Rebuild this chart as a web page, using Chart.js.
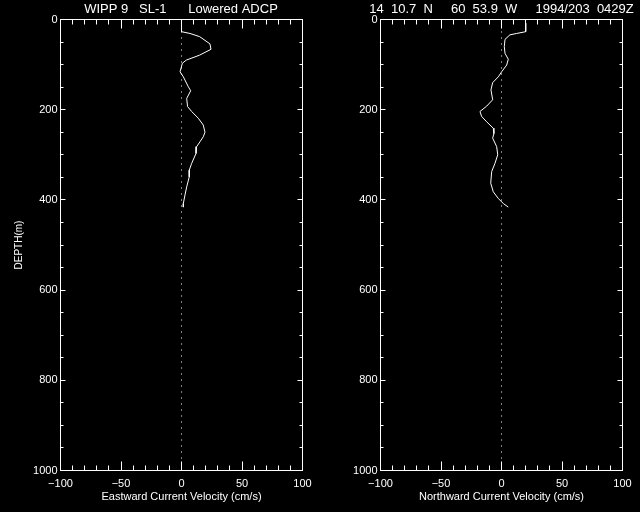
<!DOCTYPE html>
<html>
<head>
<meta charset="utf-8">
<script src="https://cdn.jsdelivr.net/npm/chart.js@4/dist/chart.umd.min.js"></script>
<style>
  html, body { margin: 0; padding: 0; background: #000; width: 640px; height: 512px; overflow: hidden; }
  canvas { position: absolute; top: 0; }
  #east { left: 0px; }
  #north { left: 341px; }
</style>
</head>
<body>
<canvas id="east" width="362" height="512"></canvas>
<canvas id="north" width="321" height="512"></canvas>
<script>
// ---- data ----
const eastDepths = [8, 27, 31, 38, 54, 66, 79, 90, 97, 116, 127, 149, 158, 175, 193, 204, 219, 234, 250, 260, 271, 282, 297, 319, 334, 349, 371, 389, 408, 416];
const eastVel    = [0, 0, 7, 15, 23.5, 24.4, 15, 4, 0.7, -1.2, 1.5, 5.6, 7.6, 4.3, 5, 8.4, 13.9, 18, 19.4, 18, 15.3, 12.5, 12, 8.4, 6.4, 6.4, 4.3, 2.9, 1.5, 1.5];

const northDepths = [8, 27, 31, 34, 44, 60, 75, 88, 101, 116, 127, 140, 156, 178, 192, 204, 215, 227, 241, 253, 263, 282, 300, 319, 337, 363, 382, 397, 408, 416];
const northVel    = [20, 20, 12.5, 7, 2.9, 2.3, 2.9, 5.6, 4.3, 0.1, -2.6, -7.3, -8.7, -7.3, -12.2, -17.8, -16.4, -12.2, -6.8, -6.3, -7.3, -4, -3.1, -5.4, -8.1, -8.9, -6.8, -2.6, 1.5, 5.6];

const zeroLineDepths = [0, 1000];
const velRange = [-100, 100];
const depthRange = [0, 1000];
const velMajorStep = 50, velMinorStep = 10;
const depthMajorStep = 200, depthMinorStep = 50;

const eastTitle  = 'WIPP 9   SL-1      Lowered ADCP';
const northTitle = '14  10.7  N     60  53.9  W     1994/203  0429Z';
const eastXLabel  = 'Eastward Current Velocity (cm/s)';
const northXLabel = 'Northward Current Velocity (cm/s)';
const yLabel = 'DEPTH(m)';

const FONT = "'Liberation Sans', Arial, sans-serif";

const boxTicks = {
  id: 'boxTicks',
  afterDatasetsDraw(chart) {
    const { ctx, chartArea: a } = chart;
    const xs = chart.scales.x, ys = chart.scales.y;
    ctx.save();
    ctx.strokeStyle = '#fff';
    ctx.lineWidth = 1;
    ctx.strokeRect(a.left, a.top, a.right - a.left, a.bottom - a.top);
    ctx.beginPath();
    for (let v = velRange[0]; v <= velRange[1]; v += velMinorStep) {
      const p = Math.round(xs.getPixelForValue(v) - 0.5) + 0.5;
      const len = (Math.abs(v) % velMajorStep === 0) ? 9 : 5;
      ctx.moveTo(p, a.bottom); ctx.lineTo(p, a.bottom - len);
      ctx.moveTo(p, a.top); ctx.lineTo(p, a.top + len);
    }
    for (let d = depthRange[0]; d <= depthRange[1]; d += depthMinorStep) {
      const p = Math.round(ys.getPixelForValue(d) - 0.5) + 0.5;
      const len = (d % depthMajorStep === 0) ? 5 : 3;
      ctx.moveTo(a.left, p); ctx.lineTo(a.left + len, p);
      ctx.moveTo(a.right, p); ctx.lineTo(a.right - len, p);
    }
    ctx.stroke();
    ctx.restore();
  }
};

function makeChart(id, depths, vels, title, xLabel, showY, yWidth, rightWidth) {
  const profile = depths.map((d, i) => ({ x: vels[i], y: d }));
  const zero = zeroLineDepths.map(d => ({ x: 0, y: d }));
  return new Chart(document.getElementById(id), {
    type: 'line',
    data: {
      datasets: [
        { data: zero, borderColor: '#fff', borderWidth: 1, borderDash: [1, 5], pointRadius: 0, fill: false },
        { data: profile, borderColor: '#fff', borderWidth: 1, pointRadius: 0, tension: 0, fill: false }
      ]
    },
    options: {
      responsive: false,
      animation: false,
      events: [],
      layout: { padding: 0 },
      plugins: {
        legend: { display: false },
        tooltip: { enabled: false },
        title: {
          display: true, text: title, color: '#fff', fullSize: true,
          font: { family: FONT, size: 13, weight: 'normal', lineHeight: 1.2 },
          padding: { top: 2, bottom: 1.9 }
        }
      },
      scales: {
        x: {
          type: 'linear', position: 'bottom', min: velRange[0], max: velRange[1],
          grid: { display: false, drawTicks: false },
          border: { display: false },
          ticks: {
            stepSize: velMajorStep, autoSkip: false, maxRotation: 0, color: '#fff', padding: 7,
            font: { family: FONT, size: 11 },
            callback: v => String(v).replace('-', '\u2212')
          },
          title: {
            display: true, text: xLabel, color: '#fff',
            font: { family: FONT, size: 11, lineHeight: 1.2 },
            padding: { top: 0, bottom: 8 }
          },
          afterFit: s => { s.height = 41.5; }
        },
        y: {
          type: 'linear', position: 'left', min: depthRange[0], max: depthRange[1], reverse: true,
          grid: { display: false, drawTicks: false },
          border: { display: false },
          ticks: {
            stepSize: depthMajorStep, autoSkip: false, color: '#fff', padding: 3,
            font: { family: FONT, size: 11 },
            callback: v => String(v)
          },
          title: {
            display: showY, text: yLabel, color: '#fff',
            font: { family: FONT, size: 10, lineHeight: 1.2 },
            padding: { top: 13, bottom: 0 }
          },
          afterFit: s => { s.width = yWidth; }
        },
        yRight: {
          type: 'linear', position: 'right', min: depthRange[0], max: depthRange[1], reverse: true,
          grid: { display: false, drawTicks: false },
          border: { display: false },
          ticks: { display: false },
          afterFit: s => { s.width = rightWidth; }
        }
      }
    },
    plugins: [boxTicks]
  });
}

makeChart('east', eastDepths, eastVel, eastTitle, eastXLabel, true, 60.5, 59.5);
makeChart('north', northDepths, northVel, northTitle, northXLabel, false, 39.5, 39.5);
</script>
</body>
</html>
